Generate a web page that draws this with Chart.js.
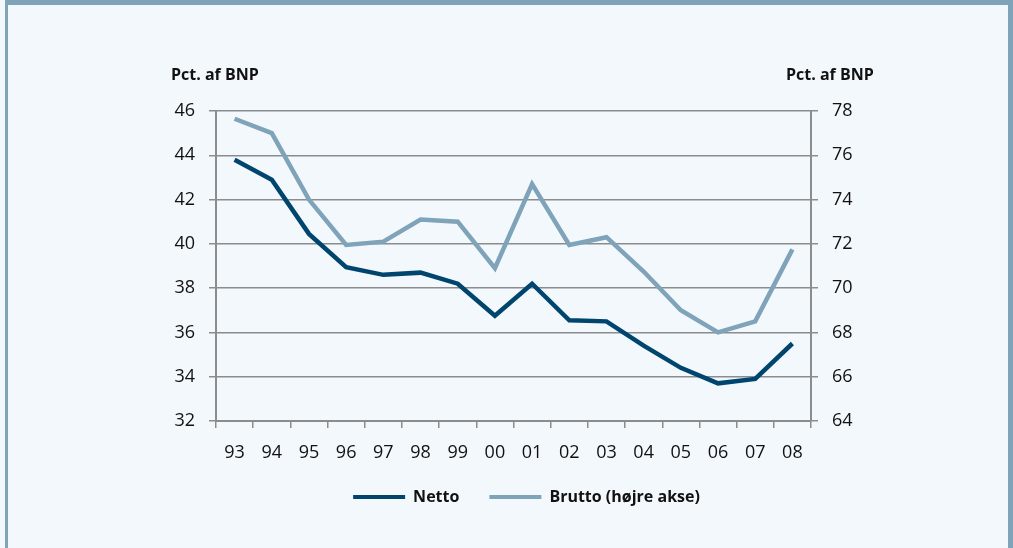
<!DOCTYPE html>
<html>
<head>
<meta charset="utf-8">
<script src="https://cdn.jsdelivr.net/npm/chart.js@4/dist/chart.umd.min.js"></script>
<style>
  html, body { margin: 0; padding: 0; background: #f3f8fd; }
  #frame {
    position: absolute; left: 5px; top: 0; width: 1000px; height: 543px;
    border-top: 5px solid #7fa3b8; border-left: 3px solid #7fa3b8; border-right: 5px solid #7fa3b8;
  }
  #wrap { position: absolute; left: 0; top: 0; width: 1013px; height: 548px; }
</style>
</head>
<body>
<div id="frame"></div>
<div id="wrap"><canvas id="chart" width="1013" height="548"></canvas></div>
<script>
const years = ["93", "94", "95", "96", "97", "98", "99", "00", "01", "02", "03", "04", "05", "06", "07", "08"];
const netto = [43.8, 42.9, 40.45, 38.95, 38.6, 38.7, 38.2, 36.75, 38.2, 36.55, 36.5, 35.4, 34.4, 33.7, 33.9, 35.5];
const brutto = [77.65, 77.0, 74.0, 71.95, 72.1, 73.1, 73.0, 70.9, 74.7, 71.95, 72.3, 70.75, 69.0, 68.0, 68.5, 71.75];

const gridGray = "#8c8c8c";
const font = "'Open Sans', 'Noto Sans', sans-serif";

// axis titles drawn above each y axis, horizontally
const axisTitles = {
  id: "axisTitles",
  afterDraw(chart) {
    const ctx = chart.ctx;
    ctx.save();
    ctx.font = "bold 16px " + font;
    ctx.fillStyle = "#111";
    ctx.textBaseline = "middle";
    ctx.textAlign = "left";
    ctx.fillText("Pct. af BNP", 171, 75);
    ctx.fillText("Pct. af BNP", 786, 75);
    ctx.restore();
  }
};

const ctx = document.getElementById("chart").getContext("2d");
new Chart(ctx, {
  type: "line",
  data: {
    labels: years,
    datasets: [
      {
        label: "Netto",
        data: netto,
        yAxisID: "y",
        borderColor: "#00456e",
        backgroundColor: "#00456e",
        borderWidth: 4.5,
        pointRadius: 0,
        tension: 0
      },
      {
        label: "Brutto (højre akse)",
        data: brutto,
        yAxisID: "y1",
        borderColor: "#7fa3b8",
        backgroundColor: "#7fa3b8",
        borderWidth: 4.5,
        pointRadius: 0,
        tension: 0
      }
    ]
  },
  options: {
    responsive: false,
    animation: false,
    layout: { padding: { top: 111, left: 40, right: 0, bottom: 33 } },
    plugins: {
      tooltip: { enabled: false },
      legend: {
        position: "bottom",
        labels: {
          boxWidth: 52,
          boxHeight: 4,
          padding: 30,
          color: "#111",
          font: { family: font, size: 16, weight: "bold" },
          generateLabels(chart) {
            // thin line-like legend swatches (no stroke around the box)
            return Chart.defaults.plugins.legend.labels.generateLabels(chart).map((item) => {
              item.lineWidth = 0;
              return item;
            });
          }
        }
      }
    },
    scales: {
      x: {
        offset: true,
        grid: { display: true, drawOnChartArea: false, drawTicks: true, tickLength: 7, color: gridGray, lineWidth: 1.5, offset: true },
        border: { color: gridGray, width: 2 },
        ticks: { padding: 14, color: "#111", font: { family: font, size: 18 }, maxRotation: 0 },
        afterFit(scale) { scale.height = 38; }
      },
      y: {
        position: "left",
        min: 32,
        max: 46,
        ticks: { stepSize: 2, padding: 14, color: "#111", font: { family: font, size: 18 } },
        grid: { color: gridGray, lineWidth: 1.5, tickLength: 7 },
        border: { color: gridGray, width: 2 },
        afterFit(scale) { scale.width = 176; }
      },
      y1: {
        position: "right",
        min: 64,
        max: 78,
        ticks: { stepSize: 2, padding: 14, color: "#111", font: { family: font, size: 18 } },
        grid: { drawOnChartArea: false, color: gridGray, lineWidth: 1.5, tickLength: 7 },
        border: { color: gridGray, width: 2 },
        afterFit(scale) { scale.width = 202; }
      }
    }
  },
  plugins: [axisTitles]
});
</script>
</body>
</html>
